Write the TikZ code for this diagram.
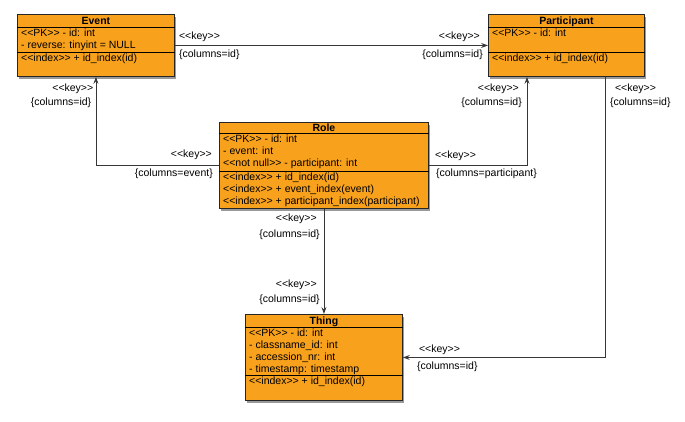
\documentclass[tikz,border=0pt]{standalone}
\usepackage{fontspec}
\setmainfont{Liberation Sans}[Ligatures=TeXOff]
\usetikzlibrary{positioning,shadows,arrows.meta}
\definecolor{classfill}{RGB}{248,161,28}
\definecolor{linkgray}{RGB}{55,55,55}

\tikzset{
  classbox/.style={draw=black!85, line width=0.9pt, fill=classfill, inner sep=0pt, anchor=north west,
    drop shadow={shadow xshift=2pt, shadow yshift=-2.5pt, opacity=0.4, fill=black}},
  classname/.style={font=\fontsize{10.5pt}{12pt}\selectfont\bfseries, anchor=base, inner sep=0pt},
  members/.style={align=left, anchor=north west, inner sep=0pt},
  fk/.style={draw=linkgray, line width=0.9pt, -{Stealth[length=7pt,width=5pt,inset=2.5pt]}},
  lbl/.style={inner sep=0pt}
}

\begin{document}
\begin{tikzpicture}[x=1pt, y=-1pt, every node/.style={font=\fontsize{10.5pt}{12pt}\selectfont}]
    \useasboundingbox (0,0) rectangle (685,421);

    % classes
    \node[classbox, minimum width=157pt, minimum height=62pt] (event) at (17,14) {};
    \node[classname] at ([yshift=-10.5pt]event.north) {Event};
    \draw[line width=0.8pt] ([yshift=-13pt]event.north west) -- ([yshift=-13pt]event.north east);
    \draw[line width=0.8pt] ([yshift=-38pt]event.north west) -- ([yshift=-38pt]event.north east);
    \node[members] at ([xshift=4pt,yshift=-15pt]event.north west) {<<PK>> - id: int\\- reverse: tinyint = NULL};
    \node[members] at ([xshift=4pt,yshift=-40pt]event.north west) {<<index>> + id\_index(id)};

    \node[classbox, minimum width=156pt, minimum height=62pt] (participant) at (488,14) {};
    \node[classname] at ([yshift=-10.5pt]participant.north) {Participant};
    \draw[line width=0.8pt] ([yshift=-13pt]participant.north west) -- ([yshift=-13pt]participant.north east);
    \draw[line width=0.8pt] ([yshift=-38pt]participant.north west) -- ([yshift=-38pt]participant.north east);
    \node[members] at ([xshift=4pt,yshift=-15pt]participant.north west) {<<PK>> - id: int};
    \node[members] at ([xshift=4pt,yshift=-40pt]participant.north west) {<<index>> + id\_index(id)};

    \node[classbox, minimum width=209pt, minimum height=86pt] (role) at (219,122) {};
    \node[classname] at ([yshift=-9pt]role.north) {Role};
    \draw[line width=0.8pt] ([yshift=-11pt]role.north west) -- ([yshift=-11pt]role.north east);
    \draw[line width=0.8pt] ([yshift=-49pt]role.north west) -- ([yshift=-49pt]role.north east);
    \node[members] at ([xshift=4pt,yshift=-13pt]role.north west) {<<PK>> - id: int\\- event: int\\<<not null>> - participant: int};
    \node[members] at ([xshift=4pt,yshift=-51pt]role.north west) {<<index>> + id\_index(id)\\<<index>> + event\_index(event)\\<<index>> + participant\_index(participant)};

    \node[classbox, minimum width=157pt, minimum height=86pt] (thing) at (245,314) {};
    \node[classname] at ([yshift=-10.5pt]thing.north) {Thing};
    \draw[line width=0.8pt] ([yshift=-13pt]thing.north west) -- ([yshift=-13pt]thing.north east);
    \draw[line width=0.8pt] ([yshift=-61pt]thing.north west) -- ([yshift=-61pt]thing.north east);
    \node[members] at ([xshift=4pt,yshift=-15pt]thing.north west) {<<PK>> - id: int\\- classname\_id: int\\- accession\_nr: int\\- timestamp: timestamp};
    \node[members] at ([xshift=4pt,yshift=-63pt]thing.north west) {<<index>> + id\_index(id)};

    % foreign keys
    \draw[fk] (event.east) -- (participant.west);
    \node[lbl, anchor=south west] at ([xshift=4pt,yshift=4pt]event.east) {<<key>>};
    \node[lbl, anchor=north west] at ([xshift=4pt,yshift=-4pt]event.east) {\{columns=id\}};
    \node[lbl, anchor=south east] at ([xshift=-8pt,yshift=4pt]participant.west) {<<key>>};
    \node[lbl, anchor=north east] at ([xshift=-5pt,yshift=-4pt]participant.west) {\{columns=id\}};

    \draw[fk] (role.west) -| (event.south);
    \node[lbl, anchor=south east] at ([xshift=-7pt,yshift=6pt]role.west) {<<key>>};
    \node[lbl, anchor=north east] at ([xshift=-6pt,yshift=-3pt]role.west) {\{columns=event\}};
    \node[lbl, anchor=east] at ([xshift=-2.5pt,yshift=-12pt]event.south) {<<key>>};
    \node[lbl, anchor=east] at ([xshift=-4.5pt,yshift=-26pt]event.south) {\{columns=id\}};

    \draw[fk] (role.east) -| ([xshift=39pt]participant.south west);
    \node[lbl, anchor=south west] at ([xshift=6pt,yshift=5pt]role.east) {<<key>>};
    \node[lbl, anchor=north west] at ([xshift=7pt,yshift=-3pt]role.east) {\{columns=participant\}};
    \node[lbl, anchor=east] at ([xshift=31pt,yshift=-12pt]participant.south west) {<<key>>};
    \node[lbl, anchor=east] at ([xshift=34pt,yshift=-26pt]participant.south west) {\{columns=id\}};

    \draw[fk] ([xshift=-39pt]participant.south east) |- (thing.east);
    \node[lbl, anchor=west] at ([xshift=-30pt,yshift=-12pt]participant.south east) {<<key>>};
    \node[lbl, anchor=west] at ([xshift=-35pt,yshift=-26pt]participant.south east) {\{columns=id\}};
    \node[lbl, anchor=south west] at ([xshift=16pt,yshift=3pt]thing.east) {<<key>>};
    \node[lbl, anchor=north west] at ([xshift=14pt,yshift=-4pt]thing.east) {\{columns=id\}};

    \draw[fk] (role.south) -- (thing.north);
    \node[lbl, anchor=east] at ([xshift=-7pt,yshift=-10pt]role.south) {<<key>>};
    \node[lbl, anchor=east] at ([xshift=-4pt,yshift=-26pt]role.south) {\{columns=id\}};
    \node[lbl, anchor=east] at ([xshift=-7pt,yshift=29pt]thing.north) {<<key>>};
    \node[lbl, anchor=east] at ([xshift=-4pt,yshift=14pt]thing.north) {\{columns=id\}};
\end{tikzpicture}
\end{document}
